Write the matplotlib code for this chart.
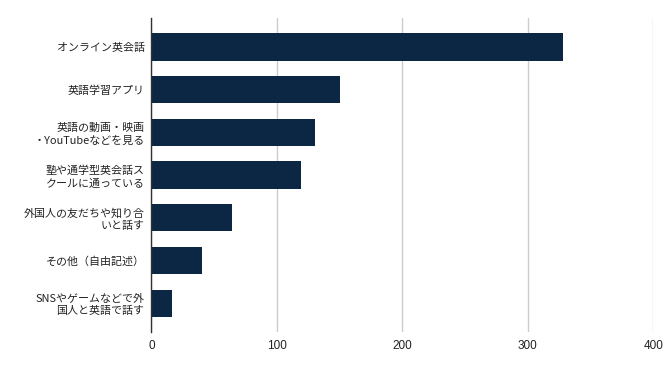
import matplotlib
matplotlib.use('Agg')
import matplotlib.pyplot as plt

plt.rcParams['font.family'] = ['Noto Sans CJK JP', 'DejaVu Sans']

categories = [
    'オンライン英会話',
    '英語学習アプリ',
    '英語の動画・映画\n・YouTubeなどを見る',
    '塾や通学型英会話ス\nクールに通っている',
    '外国人の友だちや知り合\nいと話す',
    'その他（自由記述）',
    'SNSやゲームなどで外\n国人と英語で話す',
]
values = [328, 150, 130, 119, 64, 40, 16]
xticks = [0, 100, 200, 300, 400]

fig = plt.figure(figsize=(6.72, 3.71), dpi=100)
ax = fig.add_axes([0.2254, 0.105, 0.7466, 0.8465])

pos = list(range(len(categories)))
ax.barh(pos, values, height=0.64, color='#0c2744', zorder=3)

ax.set_ylim(6.675, -0.675)
ax.set_xlim(0, 400)
ax.set_xticks(xticks)
ax.set_xticklabels([str(t) for t in xticks], family=['Liberation Sans', 'DejaVu Sans'], fontsize=8.5)
ax.set_yticks(pos)
ax.set_yticklabels(categories, fontsize=7.9, color='#222222', linespacing=1.25)
ax.tick_params(axis='both', length=0, colors='#222222')
ax.tick_params(axis='y', pad=5)
ax.tick_params(axis='x', pad=6)

ax.grid(axis='x', color='#cccccc', linewidth=1, zorder=0)
for s in ['top', 'right', 'bottom']:
    ax.spines[s].set_visible(False)
ax.spines['left'].set_color('#333333')
ax.spines['left'].set_linewidth(1)
ax.spines['left'].set_zorder(4)

fig.savefig('out.png', dpi=100)
